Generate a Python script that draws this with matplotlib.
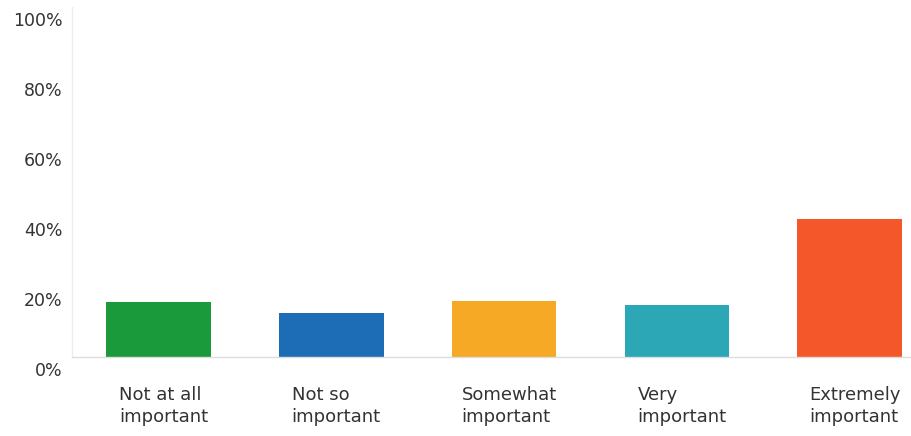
import matplotlib.pyplot as plt
from matplotlib.transforms import ScaledTranslation

categories = ["Not at all\nimportant", "Not so\nimportant", "Somewhat\nimportant",
              "Very\nimportant", "Extremely\nimportant"]
values = [15.8, 12.6, 16.1, 15.0, 39.4]
colors = ["#1b9a3c", "#1c6db5", "#f6a925", "#2ba7b5", "#f4582a"]
yticks = [0, 20, 40, 60, 80, 100]
ytick_labels = ["0%", "20%", "40%", "60%", "80%", "100%"]

plt.rcParams["font.family"] = ["DejaVu Sans"]

fig = plt.figure(figsize=(9.12, 4.36), dpi=100)
ax = fig.add_axes([72 / 912, 79 / 436, 840 / 912, 350 / 436])

x = range(len(categories))
ax.bar(x, values, width=0.605, color=colors, zorder=2)

ax.set_xlim(-0.5, 4.36)
ax.set_ylim(0, 100)

ax.set_yticks(yticks)
ax.set_yticklabels(ytick_labels, fontsize=12.5, color="#333333")
ax.set_xticks(list(x))
ax.set_xticklabels(categories, fontsize=13, color="#333333",
                   multialignment="left", linespacing=1.3)

ax.tick_params(axis="both", length=0)
ax.tick_params(axis="y", pad=7)
ax.tick_params(axis="x", pad=21)

# labels in the reference sit a little below their gridline positions
shift = ScaledTranslation(0, -12 / 100, fig.dpi_scale_trans)
for lbl in ax.get_yticklabels():
    lbl.set_transform(lbl.get_transform() + shift)
xshift = ScaledTranslation(5 / 100, 0, fig.dpi_scale_trans)
for lbl in ax.get_xticklabels():
    lbl.set_transform(lbl.get_transform() + xshift)

for side in ["top", "right"]:
    ax.spines[side].set_visible(False)
ax.spines["left"].set_color("#ececec")
ax.spines["left"].set_linewidth(1)
ax.spines["bottom"].set_color("#dddddd")
ax.spines["bottom"].set_linewidth(1)
ax.spines["bottom"].set_linestyle((0, (2, 1)))

fig.savefig("out.png", dpi=100)
